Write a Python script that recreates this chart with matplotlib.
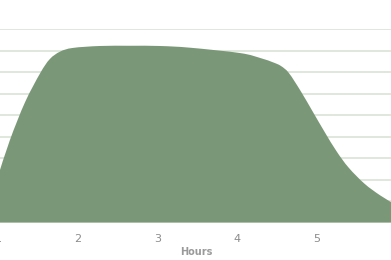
"""
plot.py
Area chart of a value over hours, smoothed outline
"""

import numpy as np
import matplotlib
matplotlib.use('Agg')
import matplotlib.pyplot as plt
from matplotlib.path import Path
from matplotlib.patches import PathPatch

# Values (hours, value)
hours = [1.00, 1.15, 1.34, 1.53, 1.65, 1.78, 1.94, 2.28, 2.66, 3.03,
         3.41, 4.04, 4.30, 4.45, 4.55, 4.65, 4.80, 4.95, 5.10, 5.25,
         5.40, 5.60, 5.80, 6.00]
values = [21.5, 38.4, 56.0, 69.5, 76.0, 79.5, 81.2, 82.1, 82.2, 82.1,
          81.3, 78.8, 76.4, 74.5, 72.8, 69.5, 61.0, 51.5, 42.0, 33.0,
          25.5, 18.0, 12.5, 8.0]
x_ticks = [1, 2, 3, 4, 5]
y_grid = [0, 10, 20, 30, 40, 50, 60, 70, 80, 90]

fill_color = '#7a9877'
grid_color = '#dde5da'
text_color = '#8c8c8c'


def smooth_area_path(xs, ys, base=0.0):
    """
    Builds a closed path: Catmull-Rom curve through the points, down to base
    """
    pts = np.column_stack([xs, ys])
    verts = [pts[0]]
    codes = [Path.MOVETO]
    n = len(pts)
    for i in range(n - 1):
        p0 = pts[max(i - 1, 0)]
        p1 = pts[i]
        p2 = pts[i + 1]
        p3 = pts[min(i + 2, n - 1)]
        c1 = p1 + (p2 - p0) / 6.0
        c2 = p2 - (p3 - p1) / 6.0
        verts += [c1, c2, p2]
        codes += [Path.CURVE4] * 3
    verts += [(xs[-1], base), (xs[0], base), pts[0]]
    codes += [Path.LINETO, Path.LINETO, Path.CLOSEPOLY]
    return Path(verts, codes)


fig = plt.figure(figsize=(3.91, 2.60), dpi=100)
# axes is wider than the figure: the reference is a cropped chart
ax = fig.add_axes([-2.0 / 391, 37.5 / 260, 398.5 / 391, 193.5 / 260])

# Grid lines
for g in y_grid:
    ax.axhline(g, color=grid_color, linewidth=1.3, zorder=0)

# Smoothed area
ax.add_patch(PathPatch(smooth_area_path(hours, values), facecolor=fill_color,
                       edgecolor='none', zorder=2))

ax.set_xlim(1, 6)
ax.set_ylim(0, 90)
ax.set_xticks(x_ticks)
ax.set_xticklabels([str(t) for t in x_ticks])
ax.set_yticks([])
ax.tick_params(axis='x', length=0, pad=8, labelsize=8, labelcolor=text_color)
for side in ['top', 'right', 'left', 'bottom']:
    ax.spines[side].set_visible(False)
ax.set_xlabel('Hours', fontsize=7, color='#9a9a9a', fontweight='bold')
ax.xaxis.set_label_coords(0.497, -0.125)

fig.savefig('out.png', dpi=100)
